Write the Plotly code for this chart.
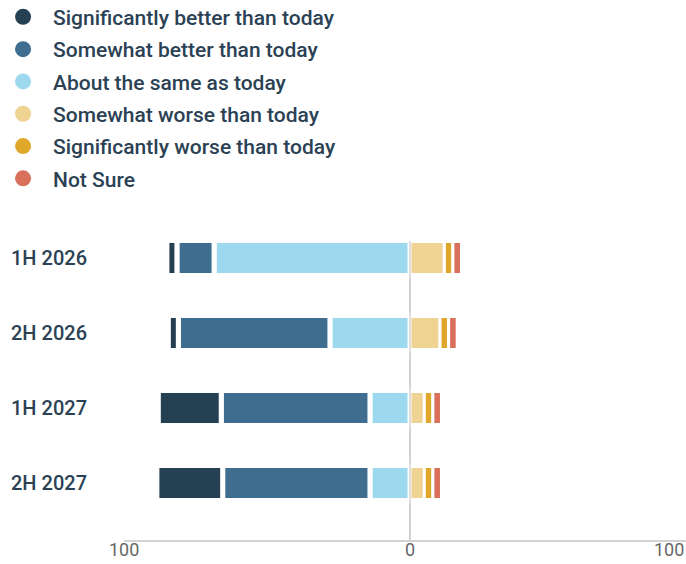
import plotly.graph_objects as go

# Survey outlook by period
periods = ["1H 2026", "2H 2026", "1H 2027", "2H 2027"]

sig_better = [3.5, 3.5, 22.0, 23.0]
somewhat_better = [13.0, 53.0, 52.0, 51.5]
about_same = [68.5, 28.0, 14.0, 14.0]
somewhat_worse = [12.0, 10.5, 5.0, 5.0]
sig_worse = [3.0, 3.0, 3.0, 3.0]
not_sure = [3.0, 3.0, 3.0, 3.0]

series_names = [
    "Significantly better than today",
    "Somewhat better than today",
    "About the same as today",
    "Somewhat worse than today",
    "Significantly worse than today",
    "Not Sure",
]
colors = ["#253f53", "#3e6d90", "#9cd9ee", "#eed393", "#e0a82a", "#d8705c"]

# Axis scale ticks (left side shows magnitude of the negative stack)
x_ticks = [-100, 0]
x_tick_text = ["100", "0"]

TEXT = "#2b4154"
AXIS_TEXT = "#666666"
FONT = "Roboto"

fig = go.Figure()

# Legend entries with round markers
for name, col in zip(series_names, colors):
    fig.add_trace(go.Scatter(
        x=[None], y=[None], mode="markers", name=name,
        marker=dict(color=col, size=16), legendgroup=name,
        hoverinfo="skip",
    ))

# Left side stacks outward from zero: neutral, somewhat better, significantly better
left = [(about_same, 2), (somewhat_better, 1), (sig_better, 0)]
for vals, i in left:
    fig.add_trace(go.Bar(
        y=periods, x=[-v for v in vals], orientation="h",
        name=series_names[i], legendgroup=series_names[i], showlegend=False,
        marker=dict(color=colors[i], line=dict(color="white", width=5)),
        width=35 / 75,
        customdata=vals,
        hovertemplate="%{y}: %{customdata}<extra>" + series_names[i] + "</extra>",
    ))

# Right side stacks outward from zero
right = [(somewhat_worse, 3), (sig_worse, 4), (not_sure, 5)]
for vals, i in right:
    fig.add_trace(go.Bar(
        y=periods, x=vals, orientation="h",
        name=series_names[i], legendgroup=series_names[i], showlegend=False,
        marker=dict(color=colors[i], line=dict(color="white", width=3)),
        width=33 / 75,
        hovertemplate="%{y}: %{x}<extra>" + series_names[i] + "</extra>",
    ))

# Scale labels under the axis: the two in range sit on their tick values,
# the outer "100" is tucked against the right edge
tick_notes = [
    dict(xref="x", x=v, xanchor="center", text=t)
    for v, t in zip(x_ticks, x_tick_text)
]
tick_notes.append(dict(xref="paper", x=1, xanchor="right", text="100"))
annotations = [
    dict(**n, yref="paper", y=0, yanchor="top", yshift=3, showarrow=False,
         font=dict(size=18, color=AXIS_TEXT, family=FONT))
    for n in tick_notes
]

fig.update_layout(
    width=686, height=564,
    margin=dict(l=124, r=0, t=241, b=24, pad=0, autoexpand=False),
    paper_bgcolor="white", plot_bgcolor="white",
    barmode="relative",
    font=dict(family=FONT, color=TEXT, size=20),
    legend=dict(
        xref="paper", yref="paper", x=-0.233, y=1.817,
        xanchor="left", yanchor="top",
        font=dict(size=21, color=TEXT, family=FONT, weight=500),
        itemwidth=50, tracegroupgap=2, traceorder="grouped",
        bgcolor="rgba(0,0,0,0)",
    ),
    xaxis=dict(
        range=[-100, 96.5], tickvals=x_ticks, showticklabels=False,
        showgrid=True, gridcolor="#d3d3d3", gridwidth=1.5,
        zeroline=False, showline=True, linecolor="#d3d3d3", linewidth=1.5,
        ticks="", fixedrange=True,
    ),
    yaxis=dict(
        type="category", categoryorder="array", categoryarray=periods,
        range=[3.76, -0.227], showgrid=False, zeroline=False, showline=False,
        ticks="", ticklabelstandoff=36,
        tickfont=dict(size=20, color=TEXT, family=FONT, weight=500),
        fixedrange=True,
    ),
    shapes=[dict(
        type="line", xref="x", yref="paper", x0=0, x1=0, y0=0, y1=1,
        line=dict(color="#d3d3d3", width=1.5), layer="above",
    )],
    annotations=annotations,
)

fig.write_html("out.html")
